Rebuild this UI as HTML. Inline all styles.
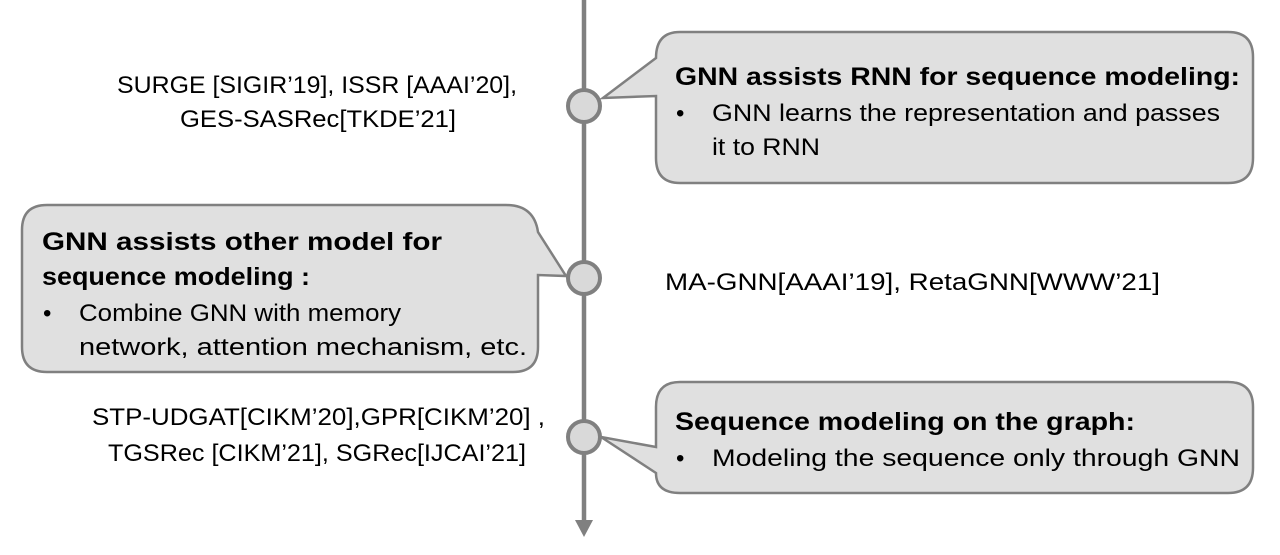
<!DOCTYPE html>
<html><head><meta charset="utf-8"><style>
html,body{margin:0;padding:0;background:#fff;}
svg{display:block;}
text{font-family:"Liberation Sans",sans-serif;fill:#000;}
.b{font-weight:bold;}
</style></head><body>
<svg width="1280" height="555" viewBox="0 0 1280 555" xmlns="http://www.w3.org/2000/svg">
<!-- timeline -->
<line x1="584" y1="0" x2="584" y2="522" stroke="#808080" stroke-width="4.5"/>
<polygon points="575,520 593,520 584,537" fill="#808080"/>

<!-- callout 1 -->
<path d="M680,32 H1228 Q1253,32 1253,57 V158 Q1253,183 1228,183 H680 Q656,183 656,158 V96 L603,98 L656,58 Q656,32 680,32 Z" fill="#e0e0e0" stroke="#808080" stroke-width="2.5"/>
<!-- callout 2 -->
<path d="M47,205 H506 Q534,205 538,232 L566,276 L538,275 V347 Q538,372 513,372 H47 Q22,372 22,347 V230 Q22,205 47,205 Z" fill="#e0e0e0" stroke="#808080" stroke-width="2.5"/>
<!-- callout 3 -->
<path d="M680,382 H1228 Q1253,382 1253,407 V468 Q1253,493 1228,493 H680 Q656,493 656,473 L601,437 L656,447 V407 Q656,382 680,382 Z" fill="#e0e0e0" stroke="#808080" stroke-width="2.5"/>

<!-- circles -->
<circle cx="584" cy="106" r="16" fill="#d9d9d9" stroke="#808080" stroke-width="4"/>
<circle cx="584" cy="278" r="16" fill="#d9d9d9" stroke="#808080" stroke-width="4"/>
<circle cx="584" cy="437" r="16" fill="#d9d9d9" stroke="#808080" stroke-width="4"/>

<!-- left/right labels -->
<text x="117" y="93" font-size="24" textLength="400" lengthAdjust="spacingAndGlyphs">SURGE [SIGIR’19], ISSR [AAAI’20],</text>
<text x="180" y="127" font-size="24" textLength="276" lengthAdjust="spacingAndGlyphs">GES-SASRec[TKDE’21]</text>
<text x="665" y="290" font-size="24" textLength="495" lengthAdjust="spacingAndGlyphs">MA-GNN[AAAI’19], RetaGNN[WWW’21]</text>
<text x="92" y="425" font-size="24" textLength="453" lengthAdjust="spacingAndGlyphs">STP-UDGAT[CIKM’20],GPR[CIKM’20] ,</text>
<text x="108" y="461" font-size="24" textLength="418" lengthAdjust="spacingAndGlyphs">TGSRec [CIKM’21], SGRec[IJCAI’21]</text>

<!-- callout 1 text -->
<text class="b" x="675" y="85" font-size="25" textLength="565" lengthAdjust="spacingAndGlyphs">GNN assists RNN for sequence modeling:</text>
<text x="676" y="121" font-size="24">•</text>
<text x="712" y="121" font-size="24" textLength="508" lengthAdjust="spacingAndGlyphs">GNN learns the representation and passes</text>
<text x="712" y="155" font-size="24" textLength="108" lengthAdjust="spacingAndGlyphs">it to RNN</text>

<!-- callout 2 text -->
<text class="b" x="42" y="250" font-size="25" textLength="400" lengthAdjust="spacingAndGlyphs">GNN assists other model for</text>
<text class="b" x="42" y="285" font-size="25" textLength="268" lengthAdjust="spacingAndGlyphs">sequence modeling :</text>
<text x="43" y="321" font-size="24">•</text>
<text x="79" y="321" font-size="24" textLength="322" lengthAdjust="spacingAndGlyphs">Combine GNN with memory</text>
<text x="79" y="355" font-size="24" textLength="448" lengthAdjust="spacingAndGlyphs">network, attention mechanism, etc.</text>

<!-- callout 3 text -->
<text class="b" x="675" y="430" font-size="25" textLength="460" lengthAdjust="spacingAndGlyphs">Sequence modeling on the graph:</text>
<text x="676" y="466" font-size="24">•</text>
<text x="712" y="466" font-size="24" textLength="528" lengthAdjust="spacingAndGlyphs">Modeling the sequence only through GNN</text>
</svg>
</body></html>
